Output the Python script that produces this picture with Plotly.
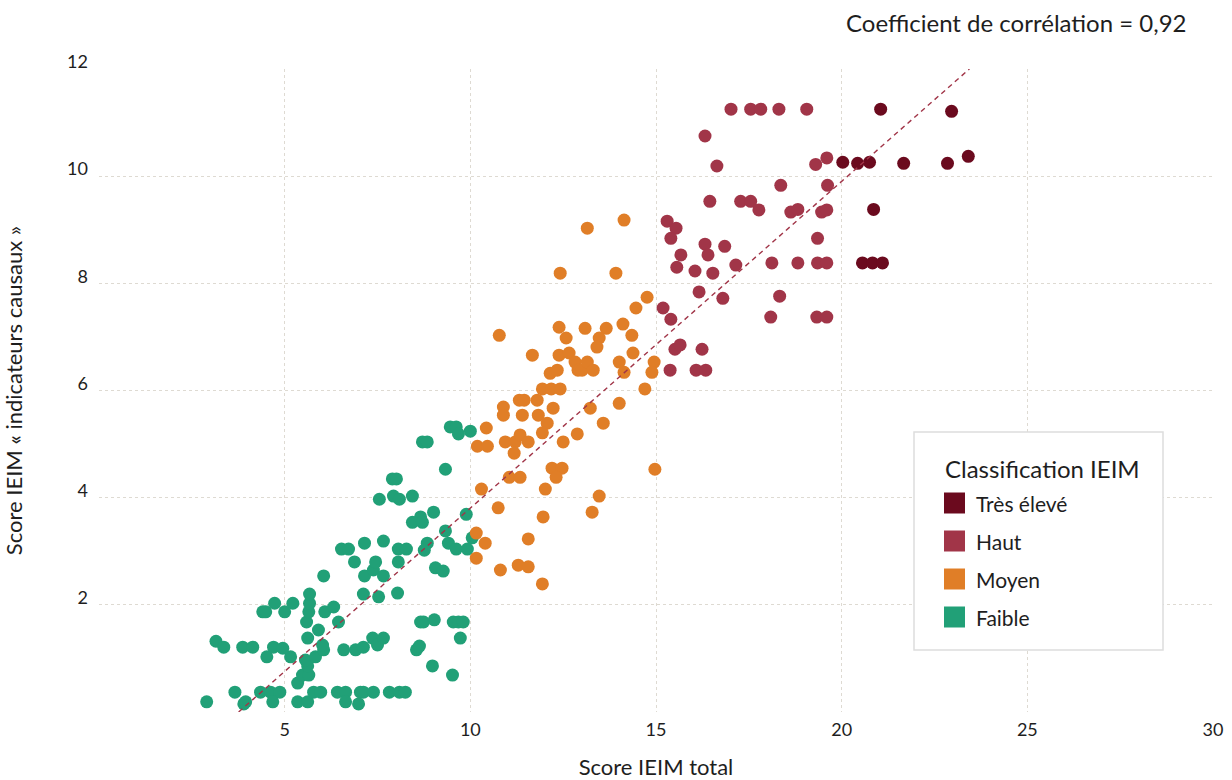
import plotly.graph_objects as go

# ---------------- data ----------------
CATEGORIES = ["Très élevé", "Haut", "Moyen", "Faible"]
COLORS = {"Très élevé": "#6B0A1E", "Haut": "#A13548", "Moyen": "#E07E27", "Faible": "#21A077"}

FAIBLE_X = [2.90, 3.66, 3.90, 3.95, 4.35, 4.62, 4.87, 4.68, 5.35, 5.62, 5.78, 5.97, 6.42, 6.64, 7.04, 7.12,
            7.39, 6.64, 6.99, 7.82, 8.09, 8.25, 5.35, 5.48, 5.65, 5.62, 5.56, 5.83, 5.16, 4.52, 3.15, 3.36,
            3.87, 4.14, 4.70, 4.95, 5.62, 5.91, 6.05, 6.02, 6.59, 6.91, 7.12, 7.37, 7.50, 7.66, 8.55, 8.63,
            8.98, 9.52, 9.73, 8.66, 8.74, 9.03, 9.54, 9.68, 9.81, 4.41, 4.49, 4.73, 5.00, 5.22, 5.59, 5.65,
            5.67, 5.67, 6.08, 6.32, 6.45, 6.05, 7.15, 7.39, 7.66, 7.45, 7.12, 7.53, 8.04, 6.88, 8.06, 9.06,
            9.27, 9.46, 9.62, 9.68, 10.00, 8.71, 8.84, 9.33, 7.90, 8.01, 7.55, 7.93, 8.09, 8.44, 9.01, 8.66,
            8.44, 8.71, 9.33, 9.89, 10.05, 9.41, 9.62, 9.92, 8.84, 8.76, 6.53, 6.72, 7.15, 7.66, 8.06, 8.28]
FAIBLE_Y = [0.19, 0.37, 0.15, 0.19, 0.37, 0.37, 0.37, 0.19, 0.19, 0.19, 0.37, 0.37, 0.37, 0.37, 0.37, 0.37,
            0.37, 0.19, 0.15, 0.37, 0.37, 0.37, 0.54, 0.69, 0.69, 0.86, 0.97, 1.03, 1.03, 1.03, 1.32, 1.21,
            1.21, 1.21, 1.21, 1.19, 1.38, 1.53, 1.16, 1.25, 1.16, 1.16, 1.21, 1.38, 1.25, 1.38, 1.16, 1.23,
            0.86, 0.69, 1.38, 1.68, 1.68, 1.72, 1.68, 1.68, 1.68, 1.87, 1.87, 2.03, 1.87, 2.03, 1.68, 1.87,
            2.03, 2.20, 1.87, 1.96, 1.68, 2.54, 2.54, 2.65, 2.54, 2.80, 2.20, 2.15, 2.22, 2.80, 2.80, 2.69,
            2.63, 5.32, 5.32, 5.19, 5.24, 5.04, 5.04, 4.53, 4.35, 4.35, 3.97, 4.03, 3.97, 4.03, 3.73, 3.64,
            3.54, 3.54, 3.38, 3.69, 3.25, 3.15, 3.04, 3.04, 3.15, 3.02, 3.04, 3.04, 3.15, 3.19, 3.04, 3.04]

MOYEN_X = [10.43, 10.19, 10.46, 10.30, 10.75, 10.16, 10.40, 10.16, 10.78, 11.67, 12.39, 12.58, 13.09, 13.66,
           13.47, 13.41, 14.11, 14.35, 14.46, 14.76, 12.39, 12.66, 12.82, 12.90, 13.01, 13.15, 13.31, 12.15,
           12.34, 11.94, 12.18, 12.42, 14.01, 14.14, 14.38, 14.95, 14.89, 14.70, 11.32, 11.45, 11.80, 10.89,
           10.89, 11.40, 11.83, 12.23, 12.07, 13.23, 14.01, 13.58, 10.94, 11.21, 11.34, 11.56, 11.18, 11.94,
           12.50, 12.88, 12.20, 12.47, 12.31, 11.05, 11.34, 14.97, 12.02, 13.47, 13.28, 11.96, 11.56, 11.29,
           11.56, 10.81, 11.94, 13.15, 14.14, 12.42, 13.92]
MOYEN_Y = [5.30, 4.96, 4.96, 4.16, 3.81, 3.34, 3.15, 2.87, 7.03, 6.66, 7.18, 6.98, 7.16, 7.16,
           6.98, 6.81, 7.24, 7.03, 7.54, 7.74, 6.66, 6.70, 6.53, 6.38, 6.38, 6.53, 6.38, 6.32,
           6.38, 6.03, 6.03, 6.03, 6.53, 6.34, 6.70, 6.53, 6.34, 6.03, 5.82, 5.82, 5.82, 5.69,
           5.54, 5.54, 5.54, 5.67, 5.39, 5.67, 5.76, 5.39, 5.04, 5.04, 5.17, 5.04, 4.83, 5.21,
           5.04, 5.19, 4.55, 4.55, 4.38, 4.38, 4.38, 4.53, 4.16, 4.03, 3.73, 3.64, 3.23, 2.74,
           2.71, 2.65, 2.39, 9.03, 9.18, 8.19, 8.19]

HAUT_X = [17.02, 17.55, 17.82, 18.31, 19.06, 16.32, 16.64, 19.30, 19.60, 19.62, 18.36, 16.45, 17.28, 17.55,
          17.77, 18.63, 18.82, 19.46, 19.60, 15.30, 15.54, 15.40, 16.32, 16.40, 16.85, 15.67, 15.56, 16.05,
          16.53, 17.15, 18.12, 18.82, 19.35, 19.60, 19.35, 16.16, 16.80, 18.33, 15.19, 15.40, 18.09, 19.33,
          19.60, 15.51, 15.65, 16.24, 15.38, 16.08, 16.34]
HAUT_Y = [11.25, 11.25, 11.25, 11.25, 11.25, 10.75, 10.19, 10.22, 10.34, 9.83, 9.83, 9.53, 9.53, 9.53,
          9.37, 9.33, 9.38, 9.33, 9.37, 9.16, 9.03, 8.84, 8.73, 8.53, 8.69, 8.53, 8.30, 8.23,
          8.19, 8.34, 8.38, 8.38, 8.38, 8.38, 8.84, 7.84, 7.72, 7.76, 7.54, 7.33, 7.37, 7.37,
          7.37, 6.77, 6.85, 6.77, 6.38, 6.38, 6.38]

TRES_X = [21.05, 22.96, 20.03, 20.43, 20.75, 21.67, 22.85, 23.41, 20.86, 20.56, 20.83, 21.10]
TRES_Y = [11.25, 11.21, 10.26, 10.24, 10.26, 10.24, 10.24, 10.37, 9.38, 8.38, 8.38, 8.38]

TREND_X = [3.76, 23.44]
TREND_Y = [0.0, 12.0]

X_TICKS = [0, 5, 10, 15, 20, 25, 30]
X_TICKTEXT = ["", "5", "10", "15", "20", "25", "30"]
Y_TICKS = [0, 2, 4, 6, 8, 10, 12]
Y_TICKTEXT = ["", "2", "4", "6", "8", "10", "12"]

CORR_TEXT = "Coefficient de corrélation = 0,92"
LEGEND_TITLE = "Classification IEIM"
X_TITLE = "Score IEIM total"
Y_TITLE = "Score IEIM « indicateurs causaux »"

SERIES = {
    "Faible": (FAIBLE_X, FAIBLE_Y),
    "Moyen": (MOYEN_X, MOYEN_Y),
    "Haut": (HAUT_X, HAUT_Y),
    "Très élevé": (TRES_X, TRES_Y),
}
for k, (xs, ys) in SERIES.items():
    assert len(xs) == len(ys), k

# ---------------- figure ----------------
W, H = 1232, 780
ML, MR, MT, MB = 99, 19, 69, 68
PW, PH = W - ML - MR, H - MT - MB
FONT = "Lato, 'Open Sans', sans-serif"
TXT = "#1e1e1e"
GRID = "#dedad2"

def px(xp):
    return (xp - ML) / PW

def py(yp):
    return (H - MB - yp) / PH

fig = go.Figure()
for name in ["Faible", "Moyen", "Haut", "Très élevé"]:
    xs, ys = SERIES[name]
    fig.add_trace(go.Scatter(
        x=xs, y=ys, mode="markers", name=name, showlegend=False,
        marker=dict(size=13, color=COLORS[name], line=dict(width=0)),
    ))

fig.add_trace(go.Scatter(
    x=TREND_X, y=TREND_Y, mode="lines", showlegend=False, hoverinfo="skip",
    line=dict(color="#A13548", width=1.4, dash="5px,4px"),
))

axis_common = dict(
    showgrid=True, gridcolor=GRID, griddash="3px,3px", gridwidth=1,
    zeroline=False, showline=False, ticks="",
    tickfont=dict(family=FONT, size=18, color=TXT),
)
fig.update_xaxes(range=[0, 30], tickvals=X_TICKS, ticktext=X_TICKTEXT,
                 title=dict(text=X_TITLE, font=dict(family=FONT, size=22, color=TXT), standoff=20),
                 ticklabelstandoff=5, automargin=False, **axis_common)
fig.update_yaxes(range=[0, 12], tickvals=Y_TICKS, ticktext=Y_TICKTEXT,
                 title=dict(text=Y_TITLE, font=dict(family=FONT, size=22, color=TXT), standoff=38),
                 ticklabelstandoff=10, ticklabelshift=-7, automargin=False, **axis_common)

shapes = []
annotations = []
# legend box
shapes.append(dict(type="rect", xref="paper", yref="paper",
                   x0=px(914), x1=px(1163), y0=py(650), y1=py(432),
                   line=dict(color="#dddddd", width=1.5), fillcolor="white", layer="above"))
annotations.append(dict(xref="paper", yref="paper", x=px(943), y=py(468), text=LEGEND_TITLE,
                        showarrow=False, xanchor="left", yanchor="middle",
                        font=dict(family=FONT, size=24, color=TXT)))
item_y = [503, 541, 579, 617]
for name, yc in zip(CATEGORIES, item_y):
    shapes.append(dict(type="rect", xref="paper", yref="paper",
                       x0=px(944), x1=px(965), y0=py(yc + 10.5), y1=py(yc - 10.5),
                       line=dict(width=0), fillcolor=COLORS[name], layer="above"))
    annotations.append(dict(xref="paper", yref="paper", x=px(974), y=py(yc), text=name,
                            showarrow=False, xanchor="left", yanchor="middle",
                            font=dict(family=FONT, size=21, color=TXT)))
# correlation note
annotations.append(dict(xref="paper", yref="paper", x=px(1189), y=py(22), text=CORR_TEXT,
                        showarrow=False, xanchor="right", yanchor="middle",
                        font=dict(family=FONT, size=24, color=TXT)))

fig.update_layout(
    width=W, height=H,
    margin=dict(l=ML, r=MR, t=MT, b=MB, autoexpand=False),
    plot_bgcolor="white", paper_bgcolor="white",
    font=dict(family=FONT, color=TXT),
    showlegend=False,
    shapes=shapes, annotations=annotations,
)

fig.write_html(
    "out.html",
    config={"displayModeBar": False},
    post_script="document.body.style.margin='0';document.body.style.overflow='hidden';",
)
